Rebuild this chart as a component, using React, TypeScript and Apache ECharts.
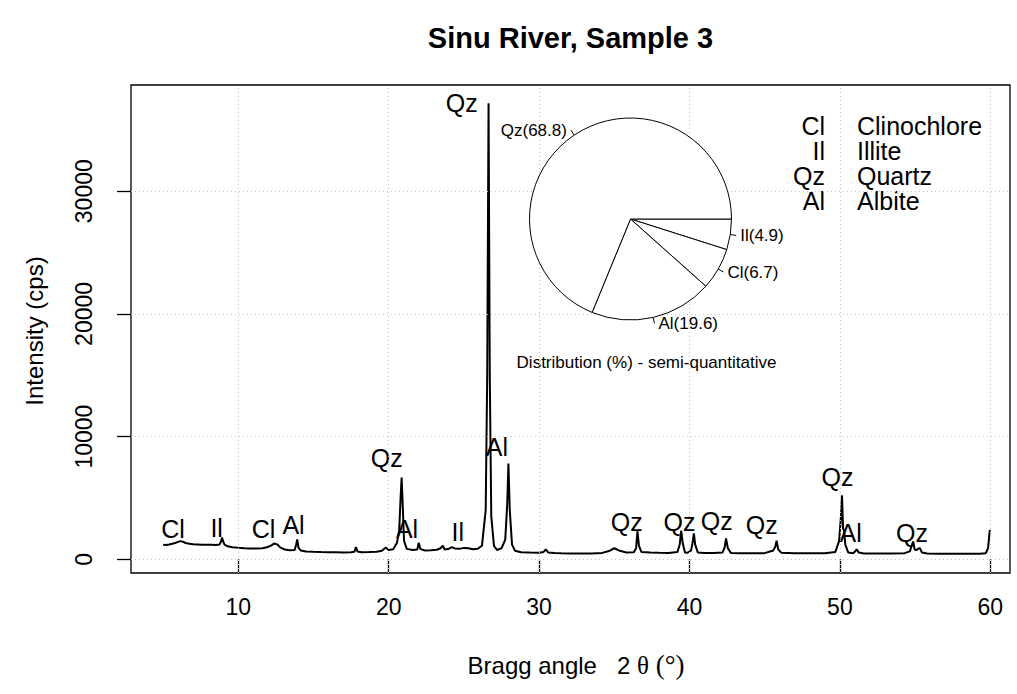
import React, { useEffect, useRef } from 'react';
import * as echarts from 'echarts';

const TITLE = 'Sinu River, Sample 3';
const X_LABEL_PARTS = ['Bragg angle   2 ', 'θ', ' (°)'];
const Y_LABEL = 'Intensity (cps)';
const X_TICKS = [10, 20, 30, 40, 50, 60];
const Y_TICKS = [0, 10000, 20000, 30000];
const X_RANGE = [2.866, 61.31];
const Y_RANGE = [-1117, 38655];

const ANGLE = [
  5.0, 5.2, 5.4, 5.6, 5.8, 6.0, 6.15, 6.3, 6.5, 6.75, 7.0, 7.3, 7.6, 7.9, 8.2, 8.5, 8.75, 8.85, 8.92, 8.98,
  9.08, 9.3, 9.6, 10.0, 10.4, 10.8, 11.2, 11.6, 11.9, 12.15, 12.4, 12.6, 12.8, 13.1, 13.4, 13.75, 13.85, 13.92, 14.0, 14.15,
  14.5, 15.0, 15.5, 16.0, 16.5, 17.0, 17.5, 17.72, 17.82, 17.92, 18.2, 18.7, 19.2, 19.55, 19.8, 20.0, 20.3, 20.55, 20.7, 20.79,
  20.86, 20.93, 21.02, 21.2, 21.6, 21.9, 22.0, 22.1, 22.4, 22.8, 23.2, 23.45, 23.6, 23.72, 23.95, 24.2, 24.4, 24.7, 25.0, 25.3,
  25.6, 25.9, 26.2, 26.45, 26.55, 26.64, 26.72, 26.82, 27.0, 27.2, 27.5, 27.75, 27.88, 27.96, 28.05, 28.2, 28.4, 28.8, 29.4, 30.0,
  30.3, 30.45, 30.6, 31.0, 31.5, 32.0, 32.8, 33.5, 34.2, 34.7, 35.0, 35.3, 35.8, 36.3, 36.45, 36.54, 36.64, 36.8, 37.4, 38.0,
  38.6, 39.2, 39.35, 39.45, 39.55, 39.7, 39.85, 40.1, 40.2, 40.29, 40.38, 40.55, 41.0, 41.6, 42.2, 42.34, 42.43, 42.55, 42.75, 43.5,
  44.3, 45.0, 45.4, 45.55, 45.7, 45.79, 45.9, 46.1, 47.0, 48.0, 49.0, 49.7, 49.95, 50.07, 50.14, 50.21, 50.28, 50.36, 50.55, 50.9,
  51.05, 51.12, 51.25, 51.6, 52.5, 53.5, 54.3, 54.65, 54.8, 54.87, 54.97, 55.1, 55.22, 55.32, 55.45, 55.8, 56.5, 57.5, 58.5, 59.3,
  59.7, 59.85, 59.92, 59.97,
];
const INTENSITY = [
  1180, 1170, 1210, 1260, 1330, 1420, 1480, 1440, 1330, 1260, 1220, 1210, 1190, 1180, 1190, 1170, 1200, 1450, 1780, 1500,
  1200, 1060, 990, 940, 900, 880, 870, 900, 980, 1100, 1290, 1200, 950, 800, 740, 760, 1200, 1620, 950, 720,
  640, 610, 590, 580, 570, 560, 570, 620, 1000, 640, 580, 590, 620, 700, 960, 760, 820, 1350, 2400, 5000,
  6660, 4500, 1500, 850, 760, 800, 1350, 850, 720, 730, 780, 900, 1110, 800, 830, 1000, 880, 850, 930, 900,
  820, 850, 1100, 4000, 15000, 37160, 15000, 3500, 1100, 760, 900, 1600, 4500, 7800, 4000, 1200, 700, 580, 550, 530,
  600, 815, 560, 520, 490, 480, 470, 480, 520, 700, 900, 720, 560, 580, 900, 2300, 1100, 600, 560, 530,
  520, 600, 1200, 2330, 1300, 560, 530, 700, 1300, 2120, 1200, 560, 520, 510, 560, 1000, 1710, 900, 520, 500,
  490, 500, 650, 700, 1000, 1510, 800, 540, 500, 490, 500, 600, 1500, 3500, 5220, 2500, 2330, 1200, 560, 500,
  700, 815, 560, 480, 470, 480, 500, 650, 1200, 1450, 800, 750, 880, 900, 560, 480, 460, 450, 450, 460,
  500, 900, 1800, 2390,
];

const PEAK_TEXT = ['Cl', 'Il', 'Cl', 'Al', 'Qz', 'Al', 'Il', 'Qz', 'Al', 'Qz', 'Qz', 'Qz', 'Qz', 'Qz', 'Al', 'Qz'];
const PEAK_X = [5.66, 8.56, 11.68, 13.67, 19.87, 21.22, 24.59, 24.86, 27.19, 35.83, 39.33, 41.81, 44.8, 49.84, 50.72, 54.8];
const PEAK_Y = [2470, 2530, 2440, 2800, 8230, 2440, 2250, 37160, 9180, 3060, 3060, 3120, 2800, 6680, 2120, 2170];

const PIE_NAMES = ['Il', 'Cl', 'Al', 'Qz'];
const PIE_VALUES = [4.9, 6.7, 19.6, 68.8];
const PIE_CAPTION = 'Distribution (%) - semi-quantitative';

const LEGEND_ABBR = ['Cl', 'Il', 'Qz', 'Al'];
const LEGEND_NAMES = ['Clinochlore', 'Illite', 'Quartz', 'Albite'];

const FONT = "'Liberation Sans', Arial, Helvetica, sans-serif";
const SERIF = "'Liberation Serif', 'DejaVu Serif', serif";

export default function App() {
  const ref = useRef<HTMLDivElement>(null);

  useEffect(() => {
    if (!ref.current) return;
    const chart = echarts.init(ref.current, undefined, { renderer: 'svg' });

    const legendGraphics: any[] = [];
    LEGEND_ABBR.forEach((a, i) => {
      const y = 126 + i * 25;
      legendGraphics.push({
        type: 'text', x: 825, y,
        style: { text: a, fontSize: 25, lineHeight: 24, fontFamily: FONT, fill: '#000', align: 'right', verticalAlign: 'middle', textAlign: 'right', textVerticalAlign: 'middle' },
      });
      legendGraphics.push({
        type: 'text', x: 857, y,
        style: { text: LEGEND_NAMES[i], fontSize: 25, lineHeight: 24, fontFamily: FONT, fill: '#000', align: 'left', verticalAlign: 'middle', textAlign: 'left', textVerticalAlign: 'middle' },
      });
    });

    const option: any = {
      animation: false,
      backgroundColor: '#fff',
      grid: { left: 131, right: 7, top: 85, bottom: 121, show: true, borderColor: '#000', borderWidth: 1.3, backgroundColor: 'transparent' },
      xAxis: {
        type: 'value', min: X_RANGE[0], max: X_RANGE[1],
        axisLine: { show: false },
        axisTick: { show: true, customValues: X_TICKS, length: 14, lineStyle: { color: '#000', width: 1.3 } },
        axisLabel: { customValues: X_TICKS, margin: 22, fontSize: 23, color: '#000', fontFamily: FONT, formatter: (v: number) => String(v) },
        splitLine: { show: false },
      },
      yAxis: {
        type: 'value', min: Y_RANGE[0], max: Y_RANGE[1],
        axisLine: { show: false },
        axisTick: { show: true, customValues: Y_TICKS, length: 14, lineStyle: { color: '#000', width: 1.3 } },
        axisLabel: { customValues: Y_TICKS, margin: 36, rotate: 90, fontSize: 23, color: '#000', fontFamily: FONT, formatter: (v: number) => String(v) },
        splitLine: { show: false },
      },
      series: [
        {
          type: 'line', data: [], z: 1, silent: true,
          markLine: {
            silent: true, symbol: ['none', 'none'], label: { show: false },
            lineStyle: { color: '#c4c4c4', type: [1, 3], width: 1 },
            data: [
              ...X_TICKS.map((v) => ({ xAxis: v })),
              ...Y_TICKS.map((v) => ({ yAxis: v })),
            ],
          },
        },
        {
          type: 'line', z: 3, silent: true, symbol: 'none', showSymbol: false,
          data: ANGLE.map((x, i) => [x, INTENSITY[i]]),
          lineStyle: { color: '#000', width: 2 },
        },
        {
          type: 'scatter', z: 4, silent: true, symbolSize: 0,
          itemStyle: { color: '#000', opacity: 1 },
          data: PEAK_X.map((x, i) => ({ name: PEAK_TEXT[i], value: [x, PEAK_Y[i]] })),
          label: { show: true, position: 'inside', formatter: '{b}', fontSize: 25, color: '#000', opacity: 1, textBorderWidth: 0, fontFamily: FONT },
        },
        {
          type: 'pie', z: 5, silent: true,
          center: [630.5, 219], radius: 101,
          startAngle: 0, clockwise: true, avoidLabelOverlap: false,
          data: PIE_NAMES.map((n, i) => ({ name: n, value: PIE_VALUES[i] })),
          itemStyle: { color: '#fff', borderColor: '#000', borderWidth: 1 },
          label: { show: true, position: 'outside', formatter: '{b}({c})', fontSize: 17, color: '#000', fontFamily: FONT, distanceToLabelLine: 4 },
          labelLine: { show: true, length: 6, length2: 0, smooth: false, lineStyle: { color: '#000', width: 1 } },
          emphasis: { disabled: true },
        },
      ],
      graphic: [
        {
          type: 'text', x: 570.5, y: 38,
          style: { text: TITLE, fontSize: 29, fontWeight: 'bold', fontFamily: FONT, fill: '#000', align: 'center', verticalAlign: 'middle', textAlign: 'center', textVerticalAlign: 'middle' },
        },
        {
          type: 'text', x: 576, y: 665,
          style: {
            text: `{a|${X_LABEL_PARTS[0]}}{t|${X_LABEL_PARTS[1]}}{p|${X_LABEL_PARTS[2]}}`,
            fontSize: 24, fontFamily: FONT, fill: '#000', align: 'center', verticalAlign: 'middle', textAlign: 'center', textVerticalAlign: 'middle',
            rich: {
              a: { fontSize: 24, fontFamily: FONT, fill: '#000', color: '#000' },
              t: { fontSize: 25, fontFamily: SERIF, fill: '#000', color: '#000' },
              p: { fontSize: 27, fontFamily: SERIF, fill: '#000', color: '#000' },
            },
          },
        },
        {
          type: 'text', x: 34, y: 331, rotation: Math.PI / 2,
          style: { text: Y_LABEL, fontSize: 24, fontFamily: FONT, fill: '#000', align: 'center', verticalAlign: 'middle', textAlign: 'center', textVerticalAlign: 'middle' },
        },
        {
          type: 'text', x: 646.5, y: 362,
          style: { text: PIE_CAPTION, fontSize: 17, fontFamily: FONT, fill: '#000', align: 'center', verticalAlign: 'middle', textAlign: 'center', textVerticalAlign: 'middle' },
        },
        ...legendGraphics,
      ],
    };

    chart.setOption(option);
    return () => chart.dispose();
  }, []);

  return <div ref={ref} style={{ position: 'absolute', left: 0, top: 0, width: 1017, height: 694 }} />;
}
